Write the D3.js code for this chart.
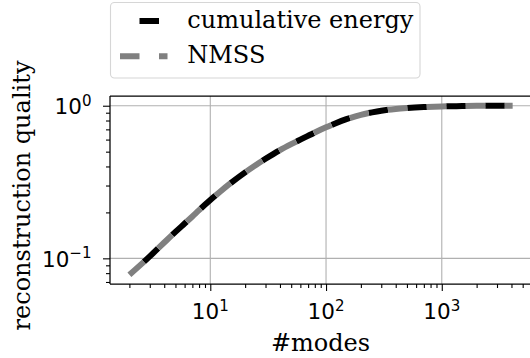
<!DOCTYPE html>
<html>
<head>
<meta charset="utf-8">
<script src="https://cdn.jsdelivr.net/npm/d3@7"></script>
<style>
  html, body { margin: 0; padding: 0; background: #fff; }
  svg { display: block; }
</style>
</head>
<body>
<div id="chart"></div>
<script>
// Number of modes kept
const modes = [2, 3, 4, 5, 6, 7, 8, 10, 12, 15, 20, 25, 30, 40, 50, 60, 80, 100, 120, 150,
  200, 250, 300, 400, 500, 700, 1000, 1500, 2000, 3000, 4096];
// Cumulative energy captured by the leading modes
const cumulativeEnergy = [0.078, 0.103, 0.127, 0.149, 0.169, 0.188, 0.207, 0.241, 0.271, 0.311,
  0.366, 0.411, 0.449, 0.512, 0.560, 0.600, 0.668, 0.722, 0.765, 0.816,
  0.872, 0.905, 0.928, 0.953, 0.966, 0.980, 0.990, 0.995, 0.998, 0.999, 1.0];
// Normalised mean-square similarity of the reconstruction
const nmss = [0.078, 0.103, 0.127, 0.149, 0.169, 0.188, 0.207, 0.241, 0.271, 0.311,
  0.366, 0.411, 0.449, 0.512, 0.560, 0.600, 0.668, 0.722, 0.765, 0.816,
  0.872, 0.905, 0.928, 0.953, 0.966, 0.980, 0.990, 0.995, 0.998, 0.999, 1.0];

const seriesNames = ["cumulative energy", "NMSS"];
const xMajorExp = [1, 2, 3];
const yMajorExp = [-1, 0];
const xLabel = "#modes";
const yLabel = "reconstruction quality";

const W = 530, H = 358;
const plot = { left: 110, right: 531, top: 96, bottom: 284 };
const serif = "'DejaVu Serif', serif";
const sans = "'DejaVu Sans', sans-serif";
const fs = 21.5;     // tick labels
const fsText = 24;   // titles and legend

const svg = d3.select("#chart").append("svg")
  .attr("width", W).attr("height", H)
  .attr("viewBox", `0 0 ${W} ${H}`);
svg.append("rect").attr("width", W).attr("height", H).attr("fill", "#fff");

const x = d3.scaleLog().domain([1.36, 5900]).range([plot.left, plot.right]);
const y = d3.scaleLog().domain([0.0679, 1.158]).range([plot.bottom, plot.top]);

const xMajor = xMajorExp.map(e => Math.pow(10, e));
const yMajor = yMajorExp.map(e => Math.pow(10, e));

function minorTicks(scale) {
  const [a, b] = scale.domain();
  const out = [];
  for (let e = Math.floor(Math.log10(a)); e <= Math.ceil(Math.log10(b)); e++) {
    for (let k = 2; k <= 9; k++) {
      const v = k * Math.pow(10, e);
      if (v >= a && v <= b) out.push(v);
    }
  }
  return out;
}

// Grid
const grid = svg.append("g").attr("stroke", "#b0b0b0").attr("stroke-width", 1.1);
xMajor.forEach(v => grid.append("line")
  .attr("x1", x(v)).attr("x2", x(v)).attr("y1", plot.top).attr("y2", plot.bottom));
yMajor.forEach(v => grid.append("line")
  .attr("x1", plot.left).attr("x2", plot.right).attr("y1", y(v)).attr("y2", y(v)));

// Curves
const line = d3.line().x(d => x(d[0])).y(d => y(d[1])).curve(d3.curveMonotoneX);
const dash = 19.5;
svg.append("path")
  .datum(modes.map((m, i) => [m, cumulativeEnergy[i]]))
  .attr("d", line).attr("fill", "none")
  .attr("stroke", "#000").attr("stroke-width", 6)
  .attr("stroke-dasharray", `${dash} ${dash}`).attr("stroke-dashoffset", dash);
svg.append("path")
  .datum(modes.map((m, i) => [m, nmss[i]]))
  .attr("d", line).attr("fill", "none")
  .attr("stroke", "#808080").attr("stroke-width", 6)
  .attr("stroke-dasharray", `${dash} ${dash}`);

// Axes (ticks only; labels drawn with superscripts below)
function styleAxis(g) {
  g.select(".domain").remove();
  g.selectAll("line").attr("stroke", "#000").attr("stroke-width", 1.1);
}
svg.append("g").attr("transform", `translate(0,${plot.bottom})`)
  .call(d3.axisBottom(x).tickValues(xMajor).tickSize(7).tickFormat(""))
  .call(styleAxis);
svg.append("g").attr("transform", `translate(0,${plot.bottom})`)
  .call(d3.axisBottom(x).tickValues(minorTicks(x)).tickSize(4).tickFormat(""))
  .call(styleAxis);
svg.append("g").attr("transform", `translate(${plot.left},0)`)
  .call(d3.axisLeft(y).tickValues(yMajor).tickSize(7).tickFormat(""))
  .call(styleAxis);
svg.append("g").attr("transform", `translate(${plot.left},0)`)
  .call(d3.axisLeft(y).tickValues(minorTicks(y)).tickSize(4).tickFormat(""))
  .call(styleAxis);

// Spines
const spines = svg.append("g").attr("stroke", "#000").attr("stroke-width", 1.25);
spines.append("line").attr("x1", plot.left).attr("x2", plot.left).attr("y1", plot.top).attr("y2", plot.bottom);
spines.append("line").attr("x1", plot.left).attr("x2", plot.right).attr("y1", plot.bottom).attr("y2", plot.bottom);
spines.append("line").attr("x1", plot.left).attr("x2", plot.right).attr("y1", plot.top).attr("y2", plot.top);
spines.append("line").attr("x1", plot.right).attr("x2", plot.right).attr("y1", plot.top).attr("y2", plot.bottom);

function powLabel(g, exp) {
  g.append("tspan").text("10");
  g.append("tspan").attr("font-size", fs * 0.7).attr("dy", -8.5)
    .text(exp < 0 ? "\u2212" + (-exp) : String(exp));
}

// X tick labels
xMajorExp.forEach(e => {
  const t = svg.append("text").attr("x", x(Math.pow(10, e))).attr("y", 319)
    .attr("text-anchor", "middle").attr("font-family", sans).attr("font-size", fs)
    .attr("fill", "#000");
  powLabel(t, e);
});
// Y tick labels
yMajorExp.forEach(e => {
  const t = svg.append("text").attr("x", 91.5).attr("y", y(Math.pow(10, e)) + 8.3)
    .attr("text-anchor", "end").attr("font-family", sans).attr("font-size", fs)
    .attr("fill", "#000");
  powLabel(t, e);
});

// Axis titles
svg.append("text").attr("x", (plot.left + plot.right) / 2).attr("y", 351)
  .attr("text-anchor", "middle").attr("font-family", serif).attr("font-size", fsText)
  .text(xLabel);
svg.append("text").attr("transform", `translate(30,195.5) rotate(-90)`)
  .attr("text-anchor", "middle").attr("font-family", serif).attr("font-size", fsText)
  .text(yLabel);

// Legend
const legend = svg.append("g");
legend.append("rect").attr("x", 110.5).attr("y", 2.5).attr("width", 309.5).attr("height", 75.5)
  .attr("rx", 4).attr("fill", "#fff").attr("fill-opacity", 0.8)
  .attr("stroke", "#d6d6d6").attr("stroke-width", 1.1);
const rows = [
  { name: seriesNames[0], color: "#000", offset: dash, cy: 21 },
  { name: seriesNames[1], color: "#808080", offset: 0, cy: 56.3 }
];
rows.forEach(r => {
  legend.append("line").attr("x1", 120).attr("x2", 167.5).attr("y1", r.cy).attr("y2", r.cy)
    .attr("stroke", r.color).attr("stroke-width", 6)
    .attr("stroke-dasharray", `${dash} ${dash}`).attr("stroke-dashoffset", r.offset);
  legend.append("text").attr("x", 187.3).attr("y", r.cy + 6.7)
    .attr("font-family", serif).attr("font-size", fsText).text(r.name);
});
</script>
</body>
</html>
